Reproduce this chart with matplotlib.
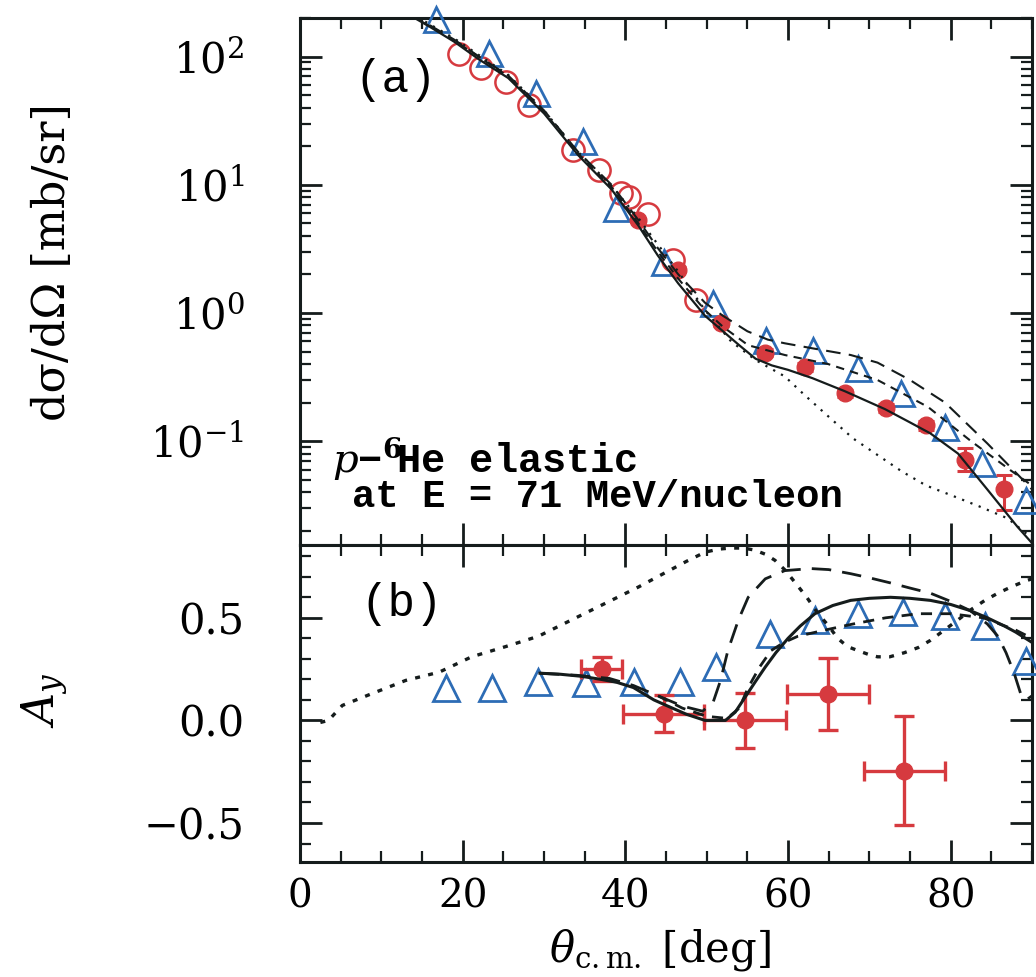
import matplotlib
matplotlib.use('Agg')
import matplotlib.pyplot as plt
import numpy as np
from matplotlib.ticker import MultipleLocator, FixedLocator

plt.rcParams['font.family'] = 'DejaVu Serif'
plt.rcParams['mathtext.fontset'] = 'dejavuserif'

# ---- (a) cross section data ----
tri_a_th = [16.7, 23.2, 29.0, 34.8, 38.9, 44.8, 50.8, 57.3, 63.1, 68.6, 73.9, 79.3, 83.9, 89.2]
tri_a_xs = [195, 107, 52, 22, 6.6, 2.5, 1.2, 0.615, 0.514, 0.372, 0.237, 0.129, 0.068, 0.035]

circ_th = [19.5, 22.2, 25.3, 28.1, 33.6, 36.7, 39.5, 40.5, 42.8, 45.9, 48.7]
circ_xs = [104, 82, 63, 42, 18.7, 13, 8.7, 8.0, 5.9, 2.6, 1.26]

dot_a_th = [41.6, 46.5, 51.7, 57.2, 62.1, 67.0, 72.0, 76.9, 81.7, 86.6]
dot_a_xs = [5.3, 2.17, 0.835, 0.49, 0.38, 0.237, 0.182, 0.133, 0.071, 0.042]
dot_a_lo = [0.2, 0.1, 0.04, 0.03, 0.025, 0.015, 0.012, 0.01, 0.012, 0.013]
dot_a_hi = [0.2, 0.1, 0.04, 0.03, 0.025, 0.015, 0.012, 0.01, 0.018, 0.012]

solid_a_th = [13.5, 16, 19, 22, 25.6, 30, 34.2, 38.3, 41.6, 44, 46.5, 49.8, 52, 54, 56, 58, 60, 63,
              67, 71.9, 75, 77.5, 80.9, 84.5, 88.2, 90]
solid_a_xs = [210, 170, 130, 95, 68, 36, 17, 9.2, 4.8, 2.8, 1.7, 0.95, 0.72, 0.56, 0.44, 0.39, 0.36, 0.31,
              0.245, 0.178, 0.14, 0.115, 0.08, 0.042, 0.0215, 0.016]

dash_a_th = [13.5, 16, 19, 22, 25.6, 30, 34.2, 38.3, 41.6, 44, 46.5, 49.8, 52, 55, 57.5, 59.6, 63,
             67.7, 71, 75, 79.3, 84.5, 88.6, 90]
dash_a_xs = [215, 175, 135, 100, 71, 38, 18, 10, 5.3, 3.2, 2.0, 1.2, 0.95, 0.72, 0.62, 0.58, 0.53,
             0.47, 0.41, 0.30, 0.20, 0.096, 0.052, 0.042]

mdash_a_th = [13.5, 19, 25.6, 30, 34.2, 38.3, 41.6, 44, 46.5, 49.8, 52, 55.1, 59.6, 64.9, 71, 77.2,
              82.5, 87.4, 90]
mdash_a_xs = [212, 133, 70, 37, 17.5, 9.6, 5.0, 3.0, 1.85, 1.05, 0.78, 0.56, 0.47, 0.40, 0.30, 0.185,
              0.10, 0.059, 0.045]

dott_a_th = [13.5, 19, 25.6, 30, 34.2, 38.3, 41.6, 43.2, 46.5, 49.8, 53, 56, 59.6, 62, 65, 68, 71, 74,
             77, 80, 83.5, 87, 90]
dott_a_xs = [220, 138, 72, 38, 18, 9.8, 5.5, 4.0, 2.1, 1.05, 0.6, 0.43, 0.32, 0.23, 0.155, 0.105, 0.078,
             0.058, 0.045, 0.038, 0.031, 0.025, 0.0175]

# ---- (b) analysing power data ----
tri_b_th = [17.9, 23.6, 29.3, 35.2, 41.0, 46.7, 51.2, 57.8, 63.3, 68.6, 74.1, 79.3, 84.2, 89.2]
tri_b_ay = [0.156, 0.156, 0.185, 0.18, 0.185, 0.185, 0.26, 0.42, 0.49, 0.52, 0.53, 0.51, 0.46, 0.29]

red_b_th = [37.1, 44.7, 54.7, 64.9, 74.3]
red_b_ay = [0.25, 0.033, 0.0, 0.13, -0.245]
red_b_dy = [0.06, 0.09, 0.135, 0.175, 0.265]
red_b_dx = [2.5, 5, 5, 5, 5]

solid_b_th = [29.5, 32, 34.6, 37, 39, 41, 43.5, 45.6, 47.5, 49.8, 52.3, 53.5, 54.7, 56, 57.2, 58.5,
              60.0, 61.5, 63.3, 65.5, 67.7, 70, 72.6, 75, 77.5, 80, 82.4, 84.5, 86.6, 88, 89.2, 90]
solid_b_ay = [0.23, 0.225, 0.215, 0.2, 0.185, 0.16, 0.10, 0.063, 0.03, 0.0, 0.0, 0.04, 0.112, 0.19,
              0.26, 0.33, 0.40, 0.46, 0.52, 0.56, 0.585, 0.595, 0.60, 0.595, 0.585, 0.565, 0.535, 0.50,
              0.46, 0.43, 0.40, 0.38]

dash_b_th = [29.5, 34, 38, 41, 44, 47, 49.5, 50.8, 51.7, 52.6, 53.9, 55.1, 57.2, 59.6, 62.8, 65, 67.7,
             70, 72.6, 75, 77.5, 80, 82.4, 84.5, 85.8, 86.8, 87.8, 88.6, 89.3, 90]
dash_b_ay = [0.23, 0.22, 0.205, 0.17, 0.12, 0.07, 0.045, 0.09, 0.195, 0.34, 0.49, 0.60, 0.69, 0.73,
             0.74, 0.735, 0.715, 0.695, 0.67, 0.645, 0.62, 0.58, 0.535, 0.47, 0.41, 0.33, 0.23, 0.13,
             0.10, 0.12]

mdash_b_th = [44, 47, 50, 52.5, 54, 55.1, 56.5, 57.9, 59.5, 61.2, 64.5, 68, 72, 76, 80, 84, 88, 90]
mdash_b_ay = [0.12, 0.06, 0.02, 0.01, 0.06, 0.16, 0.26, 0.34, 0.38, 0.41, 0.44, 0.47, 0.50, 0.52,
              0.52, 0.50, 0.44, 0.40]

dott_b_th = [2.5, 3.5, 5.2, 8.8, 13.0, 17.1, 21.1, 25.3, 29.3, 33.4, 37.5, 41.6, 44.9, 47.5, 49.8, 51.5,
             53.0, 54.5, 55.9, 57.2, 58.4, 59.7, 60.9, 62.3, 63.7, 65, 66.1, 67.3, 68.6, 70, 71.0, 72.5,
             74.3, 76, 77.5, 79.2, 80.9, 82.5, 84.2, 85.8, 87.4, 89.2, 90]
dott_b_ay = [-0.01, 0.0, 0.073, 0.13, 0.195, 0.235, 0.31, 0.36, 0.41, 0.49, 0.57, 0.65, 0.72, 0.775,
             0.82, 0.835, 0.84, 0.84, 0.83, 0.81, 0.78, 0.73, 0.67, 0.60, 0.52, 0.46, 0.40, 0.36, 0.34,
             0.32, 0.31, 0.31, 0.33, 0.355, 0.39, 0.44, 0.49, 0.54, 0.585, 0.62, 0.65, 0.68, 0.69]

xticks = [0, 20, 40, 60, 80]
ay_ticks = [-0.5, 0.0, 0.5]
ay_labels = ['\u22120.5', '0.0', '0.5']

red = '#d63a3f'
blue = '#2d6cb5'
ink = '#151c1c'

fig = plt.figure(figsize=(10.36, 9.77), dpi=100)
ax1 = fig.add_axes([0.2896, 0.4422, 0.7066, 0.5394])
ax2 = fig.add_axes([0.2896, 0.1177, 0.7066, 0.3245])

ls_dash = (0, (7, 4))
ls_mdash = (0, (4, 3))
ls_dot = (0, (1, 3))

# top panel
ax1.plot(circ_th, circ_xs, 'o', ms=16, mfc='none', mec=red, mew=1.8, zorder=3)
ax1.plot(tri_a_th, tri_a_xs, '^', ms=18, mfc='none', mec=blue, mew=2.0, zorder=3, clip_on=False)
ax1.errorbar(dot_a_th, dot_a_xs, yerr=[dot_a_lo, dot_a_hi], fmt='o', ms=12, color=red,
             elinewidth=2.2, capsize=6, capthick=2.2, zorder=3)
ax1.plot(solid_a_th, solid_a_xs, '-', color=ink, lw=1.6, zorder=4)
ax1.plot(dash_a_th, dash_a_xs, linestyle=ls_dash, color=ink, lw=1.5, zorder=4)
ax1.plot(mdash_a_th, mdash_a_xs, linestyle=ls_mdash, color=ink, lw=1.5, zorder=4)
ax1.plot(dott_a_th, dott_a_xs, linestyle=ls_dot, color=ink, lw=1.6, zorder=4)
ax1.set_yscale('log')
ax1.set_xlim(0, 90)
ax1.set_ylim(0.0155, 200)
ax1.xaxis.set_major_locator(FixedLocator(xticks))
ax1.xaxis.set_minor_locator(MultipleLocator(5))
ax1.tick_params(axis='x', labelbottom=False)

# bottom panel
ax2.plot(tri_b_th, tri_b_ay, '^', ms=19, mfc='none', mec=blue, mew=2.0, zorder=3, clip_on=False)
ax2.errorbar(red_b_th, red_b_ay, xerr=red_b_dx, yerr=red_b_dy, fmt='o', ms=12, color=red,
             elinewidth=2.4, capsize=7, capthick=2.4, zorder=3)
ax2.plot(solid_b_th, solid_b_ay, '-', color=ink, lw=2.2, zorder=4)
ax2.plot(dash_b_th, dash_b_ay, linestyle=ls_dash, color=ink, lw=2.0, zorder=4)
ax2.plot(mdash_b_th, mdash_b_ay, linestyle=ls_mdash, color=ink, lw=2.0, zorder=4)
ax2.plot(dott_b_th, dott_b_ay, linestyle=(0, (1.5, 2.5)), color=ink, lw=2.4, zorder=4)
ax2.set_xlim(0, 90)
ax2.set_ylim(-0.69, 0.855)
ax2.xaxis.set_major_locator(FixedLocator(xticks))
ax2.xaxis.set_minor_locator(MultipleLocator(5))
ax2.yaxis.set_major_locator(FixedLocator(ay_ticks))
ax2.yaxis.set_minor_locator(MultipleLocator(0.1))
ax2.set_yticklabels(ay_labels)

for ax in (ax1, ax2):
    for s in ax.spines.values():
        s.set_linewidth(2.2)
        s.set_color(ink)
    ax.tick_params(which='both', direction='in', top=True, right=True, color=ink)
    ax.tick_params(which='major', length=16, width=2.0)
    ax.tick_params(which='minor', length=8, width=1.6)
    ax.tick_params(axis='y', labelsize=30, pad=40)
    ax.tick_params(axis='x', labelsize=28, pad=12)

ax1.text(0.13, 0.882, '(a)', transform=ax1.transAxes, ha='center', va='center',
         family='Liberation Mono', fontsize=33)
ax2.text(0.139, 0.814, '(b)', transform=ax2.transAxes, ha='center', va='center',
         family='Liberation Mono', fontsize=33)
ax1.text(0.044, 0.165, r'$p\mathregular{-}^{\mathbf{6}}\!$He elastic', transform=ax1.transAxes,
         ha='left', va='center', family='Liberation Mono', fontweight='bold', fontsize=29)
ax1.text(0.071, 0.091, 'at E = 71 MeV/nucleon', transform=ax1.transAxes,
         ha='left', va='center', family='Liberation Mono', fontweight='bold', fontsize=28)

fig.text(52 / 1036, 1 - 262 / 977, 'd\u03c3/d\u03a9 [mb/sr]', rotation=90, ha='center', va='center',
         fontsize=32)
fig.text(45 / 1036, 1 - 700 / 977, r'$A_y$', rotation=90, ha='center', va='center', fontsize=32)
fig.text(660 / 1036, 1 - 950 / 977, r'$\theta_{\rm c.m.}$ [deg]', ha='center', va='center',
         fontsize=30)

fig.savefig('out.png', dpi=100)
